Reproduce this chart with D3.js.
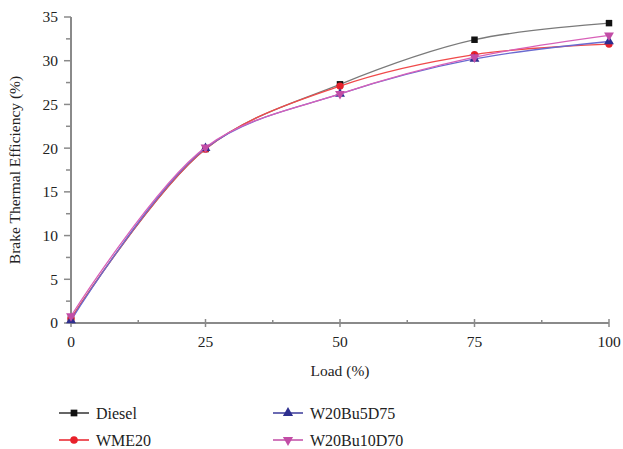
<!DOCTYPE html>
<html>
<head>
<meta charset="utf-8">
<script src="https://cdn.jsdelivr.net/npm/d3@7"></script>
<style>
  body { margin: 0; background: #fff; }
  text { font-family: "Liberation Serif", "DejaVu Serif", serif; fill: #222; }
</style>
</head>
<body>
<svg id="chart" width="623" height="449"></svg>
<script>
// data
const loads = [0, 25, 50, 75, 100];
const diesel = [0.5, 19.9, 27.3, 32.4, 34.3];
const wme20 = [0.5, 19.9, 27.1, 30.7, 31.9];
const w20bu5d75 = [0.3, 20.0, 26.2, 30.2, 32.2];
const w20bu10d70 = [0.8, 20.1, 26.2, 30.4, 32.9];
const seriesNames = ["Diesel", "WME20", "W20Bu5D75", "W20Bu10D70"];
const xTicks = [0, 25, 50, 75, 100];
const yTicks = [0, 5, 10, 15, 20, 25, 30, 35];

const series = [
  { name: seriesNames[0], values: diesel, line: "#7a7a7a", key: "#333", mark: "#111", shape: d3.symbolSquare },
  { name: seriesNames[1], values: wme20, line: "#f04a4a", key: "#e8202a", mark: "#e8202a", shape: d3.symbolCircle },
  { name: seriesNames[2], values: w20bu5d75, line: "#6a6ad0", key: "#3a3a9a", mark: "#2e2f8f", shape: d3.symbolTriangle },
  { name: seriesNames[3], values: w20bu10d70, line: "#d860b8", key: "#c24da6", mark: "#c24da6", shape: "down" }
];

const margin = { top: 17, right: 14, bottom: 126, left: 71 };
const svg = d3.select("#chart");
const width = +svg.attr("width") - margin.left - margin.right;
const height = +svg.attr("height") - margin.top - margin.bottom;
const g = svg.append("g").attr("transform", `translate(${margin.left},${margin.top})`);

const x = d3.scaleLinear().domain([0, 100]).range([0, width]);
const y = d3.scaleLinear().domain([0, 35]).range([height, 0]);

const axisColor = "#8a8a8a";

// y axis
g.append("line").attr("x1", 0).attr("x2", 0).attr("y1", y(0)).attr("y2", y(35))
  .attr("stroke", axisColor).attr("stroke-width", 2);
g.selectAll(".ymin").data(d3.range(0, 35.1, 2.5)).enter().append("line")
  .attr("x1", d => (d % 5 === 0 ? -7 : -5)).attr("x2", 0)
  .attr("y1", d => y(d)).attr("y2", d => y(d))
  .attr("stroke", axisColor).attr("stroke-width", 1.5);
g.selectAll(".ylab").data(yTicks).enter().append("text")
  .attr("x", -13).attr("y", d => y(d)).attr("dy", "0.35em")
  .attr("text-anchor", "end").style("font-size", "15.5px").text(d => d);

// x axis
g.append("line").attr("x1", x(0)).attr("x2", x(100)).attr("y1", height).attr("y2", height)
  .attr("stroke", axisColor).attr("stroke-width", 2);
g.selectAll(".xmin").data(d3.range(0, 100.1, 12.5)).enter().append("line")
  .attr("x1", d => x(d)).attr("x2", d => x(d))
  .attr("y1", d => (d % 25 === 0 ? height - 4 : height - 3))
  .attr("y2", d => (d % 25 === 0 ? height + 4 : height))
  .attr("stroke", axisColor).attr("stroke-width", 1.5);
g.selectAll(".xlab").data(xTicks).enter().append("text")
  .attr("x", d => x(d)).attr("y", height + 24)
  .attr("text-anchor", "middle").style("font-size", "15.5px").text(d => d);

// titles
g.append("text").attr("x", width / 2).attr("y", height + 53)
  .attr("text-anchor", "middle").style("font-size", "15.5px").text("Load (%)");
svg.append("text")
  .attr("transform", `translate(20,${margin.top + height / 2}) rotate(-90)`)
  .attr("text-anchor", "middle").style("font-size", "15.5px").text("Brake Thermal Efficiency (%)");

const line = d3.line().x((d, i) => x(loads[i])).y(d => y(d)).curve(d3.curveCatmullRom.alpha(0.5));

function symbolPath(shape, size) {
  if (shape === "down") {
    return d3.symbol().type(d3.symbolTriangle).size(size)();
  }
  return d3.symbol().type(shape).size(size)();
}

series.forEach(s => {
  g.append("path").datum(s.values).attr("d", line)
    .attr("fill", "none").attr("stroke", s.line).attr("stroke-width", 1.3);
  g.selectAll(null).data(s.values).enter().append("path")
    .attr("d", symbolPath(s.shape, 42))
    .attr("transform", (d, i) => `translate(${x(loads[i])},${y(d)})` + (s.shape === "down" ? " rotate(180)" : ""))
    .attr("fill", s.mark);
});

// legend
const legendPos = [[59, 413], [59, 440], [273, 413], [273, 440]];
series.forEach((s, i) => {
  const [lx, ly] = legendPos[i];
  const lg = svg.append("g").attr("transform", `translate(${lx},${ly})`);
  lg.append("line").attr("x1", 0).attr("x2", 30).attr("y1", 0).attr("y2", 0)
    .attr("stroke", s.key).attr("stroke-width", 1.5);
  lg.append("path").attr("d", symbolPath(s.shape, 45))
    .attr("transform", "translate(15,0)" + (s.shape === "down" ? " rotate(180)" : ""))
    .attr("fill", s.mark);
  lg.append("text").attr("x", 37).attr("y", 0).attr("dy", "0.35em")
    .style("font-size", "16px").text(s.name);
});
</script>
</body>
</html>
